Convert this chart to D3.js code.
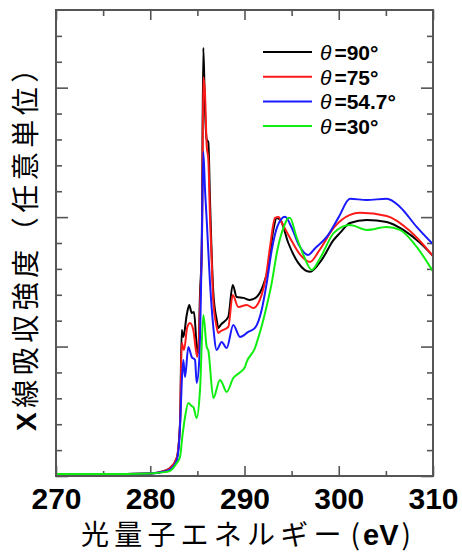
<!DOCTYPE html>
<html>
<head>
<meta charset="utf-8">
<script src="https://cdn.jsdelivr.net/npm/d3@7"></script>
<style>
  body { margin: 0; background: #fff; }
  svg { display: block; }
</style>
</head>
<body>
<div id="chart"></div>
<script>
// photon energy (eV) vs X-ray absorption intensity (arb. units)
const theta90 = [
  [270,0.015],[275,0.015],[280,0.02],[281.5,0.04],[282.1,0.062],[282.81,0.139],[283.16,0.41],
  [283.34,1.128],[283.51,1.074],[283.87,1.244],[284.14,1.321],[284.40,1.260],[284.64,1.267],
  [284.93,1.004],[285.10,0.951],[285.28,1.414],[285.46,1.747],[285.63,3.308],[285.81,2.83],
  [285.99,2.60],[286.16,2.58],[286.34,2.13],[286.5,1.75],[286.69,1.42],[287.05,1.206],
  [287.22,1.144],[287.5,1.17],[288.28,1.229],[288.75,1.476],[289.17,1.383],[289.87,1.376],
  [290.58,1.360],[291.29,1.383],[292.00,1.476],[292.53,1.615],[293.06,1.901],[293.42,1.994],
  [293.8,1.98],[294.65,1.80],[295.7,1.646],[296.95,1.577],[298.19,1.67],[299.42,1.82],
  [300.13,1.878],[301.19,1.955],[302.97,1.978],[305.09,1.963],[306.85,1.901],[308.62,1.801],
  [310,1.70]
];
const theta75 = [
  [270,0.015],[275,0.015],[280,0.02],[281.5,0.04],[282.1,0.06],[282.81,0.14],[283.16,0.40],
  [283.34,1.028],[283.58,0.974],[283.93,1.151],[284.22,1.182],[284.57,1.128],[284.98,0.920],
  [285.3,1.360],[285.5,1.9],[285.63,3.08],[285.81,2.95],[285.99,2.55],[286.16,2.45],
  [286.34,2.0],[286.5,1.7],[286.69,1.35],[287.05,1.151],[287.22,1.105],[287.5,1.12],
  [288.28,1.151],[288.75,1.399],[289.34,1.306],[290.23,1.321],[290.93,1.298],[291.82,1.399],
  [292.3,1.55],[292.71,1.770],[293.24,1.994],[293.6,2.0],[294.0,1.95],[294.83,1.839],
  [295.8,1.72],[296.95,1.654],[298.0,1.75],[299.5,1.92],[301.19,2.017],[302.25,2.033],
  [305.09,2.009],[307.56,1.893],[310,1.70]
];
const theta547 = [
  [270,0.015],[275,0.015],[280,0.02],[281.5,0.035],[282.1,0.05],[282.81,0.12],[283.16,0.38],
  [283.34,0.719],[283.51,0.896],[283.69,0.765],[284.04,0.997],[284.40,0.920],[284.75,0.896],
  [284.93,0.719],[285.2,0.896],[285.46,1.747],[285.63,2.504],[285.81,2.21],[285.99,1.978],
  [286.34,1.491],[286.69,1.151],[287.05,0.974],[287.58,1.036],[288.11,0.989],[288.81,1.167],
  [289.52,1.074],[290.40,1.113],[291.11,1.144],[291.82,1.283],[292.36,1.492],[292.9,1.75],
  [293.5,1.93],[294.3,2.002],[295.0,1.92],[295.8,1.78],[296.74,1.708],[297.5,1.76],
  [298.72,1.847],[300.0,2.0],[301.19,2.141],[302.97,2.133],[305.09,2.141],[306.50,2.079],
  [308.27,1.924],[310,1.79]
];
const theta30 = [
  [270,0.015],[275,0.015],[280,0.02],[281.5,0.03],[282.1,0.04],[282.81,0.10],[283.16,0.147],
  [283.4,0.30],[283.69,0.456],[284.04,0.564],[284.4,0.54],[284.57,0.533],[284.93,0.448],
  [285.28,0.665],[285.63,1.244],[285.99,0.997],[286.16,0.97],[286.69,0.603],[287.4,0.742],
  [287.58,0.726],[288.11,0.649],[288.81,0.757],[289.5,0.80],[290.05,0.842],[290.23,0.881],
  [291.11,0.989],[291.29,1.028],[292.18,1.260],[292.89,1.492],[293.5,1.75],[294.2,1.93],
  [294.65,1.994],[294.83,1.994],[295.5,1.85],[296.3,1.70],[297.13,1.592],[298.0,1.68],
  [299.5,1.88],[301.19,1.940],[302.97,1.901],[305.09,1.924],[306.50,1.901],[308.27,1.770],
  [310,1.58]
];
const seriesData = [theta90, theta75, theta547, theta30];
const seriesNames = ['90°', '75°', '54.7°', '30°'];
const seriesColors = ['#000000', '#ff1a1a', '#1a1aff', '#10ee10'];

const xMajor = [270, 280, 290, 300, 310];
const xMinor = [275, 285, 295, 305];
const yMajor = [0, 1, 2, 3];
const yMinor = d3.range(0.2, 3.6, 0.2).filter(v => Math.abs(v - Math.round(v)) > 0.01);

const W = 462, H = 552;
const box = { left: 56, right: 433, top: 10, bottom: 476 };

const svg = d3.select('#chart').append('svg').attr('width', W).attr('height', H);
svg.append('rect').attr('width', W).attr('height', H).attr('fill', '#fff');

const x = d3.scaleLinear().domain([270, 310]).range([box.left, box.right]);
const y = d3.scaleLinear().domain([0, 3.6]).range([box.bottom, box.top]);

const axisColor = '#555';

function addAxis(axis, tr) {
  let g = svg.append('g').attr('transform', 'translate(' + tr + ')').call(axis);
  g.select('.domain').remove();
  g.selectAll('line').attr('stroke', axisColor).attr('stroke-width', 1.6);
  return g;
}

// bottom
let gb = addAxis(d3.axisBottom(x).tickValues(xMajor).tickSize(-10).tickPadding(6)
  .tickFormat(d3.format('d')), [0, box.bottom]);
gb.selectAll('text')
  .attr('font-family', '"Liberation Sans", Arial, sans-serif')
  .attr('font-size', 30).attr('font-weight', 'bold').attr('fill', '#000')
  .attr('dy', '0.9em');
addAxis(d3.axisBottom(x).tickValues(xMinor).tickSize(-5).tickFormat(''), [0, box.bottom]);
// top
addAxis(d3.axisTop(x).tickValues(xMajor).tickSize(-10).tickFormat(''), [0, box.top]);
addAxis(d3.axisTop(x).tickValues(xMinor).tickSize(-6).tickFormat(''), [0, box.top]);
// left / right
addAxis(d3.axisLeft(y).tickValues(yMajor).tickSize(-12).tickFormat(''), [box.left, 0]);
addAxis(d3.axisLeft(y).tickValues(yMinor).tickSize(-6).tickFormat(''), [box.left, 0]);
addAxis(d3.axisRight(y).tickValues(yMajor).tickSize(-12).tickFormat(''), [box.right, 0]);
addAxis(d3.axisRight(y).tickValues(yMinor).tickSize(-6).tickFormat(''), [box.right, 0]);

svg.append('clipPath').attr('id', 'clip').append('rect')
  .attr('x', box.left).attr('y', box.top)
  .attr('width', box.right - box.left).attr('height', box.bottom - box.top);

const line = d3.line().x(d => x(d[0])).y(d => y(d[1])).curve(d3.curveMonotoneX);

svg.append('g').attr('clip-path', 'url(#clip)')
  .selectAll('path').data(seriesData).enter()
  .append('path')
  .attr('d', line)
  .attr('fill', 'none')
  .attr('stroke', (d, i) => seriesColors[i])
  .attr('stroke-width', 2)
  .attr('stroke-linejoin', 'round');

// frame
svg.append('rect')
  .attr('x', box.left).attr('y', box.top)
  .attr('width', box.right - box.left).attr('height', box.bottom - box.top)
  .attr('fill', 'none').attr('stroke', axisColor).attr('stroke-width', 2);

// legend
const leg = svg.append('g').selectAll('g').data(seriesNames).enter().append('g')
  .attr('transform', (d, i) => 'translate(263,' + (52 + i * 24.7) + ')');
leg.append('line').attr('x1', 0).attr('x2', 49).attr('y1', 0).attr('y2', 0)
  .attr('stroke', (d, i) => seriesColors[i]).attr('stroke-width', 2);
const lt = leg.append('text').attr('x', 57).attr('y', 8)
  .attr('font-family', '"Liberation Sans", Arial, sans-serif').attr('font-size', 21)
  .attr('fill', '#000');
lt.append('tspan').attr('font-style', 'italic').text('θ');
lt.append('tspan').attr('font-weight', 'bold').attr('dx', 3).text(d => '=' + d);

// axis titles
const xt = svg.append('text')
  .attr('x', 81).attr('y', 545)
  .attr('font-family', '"Noto Sans CJK JP", "Liberation Sans", sans-serif')
  .attr('font-size', 28).attr('fill', '#000');
xt.append('tspan').attr('letter-spacing', 5.2).text('光量子エネルギー');
xt.append('tspan').attr('dx', 4).text('(');
xt.append('tspan').attr('font-family', '"Liberation Sans", Arial, sans-serif')
  .attr('font-weight', 'bold').attr('font-size', 29).attr('dx', 3).text('eV');
xt.append('tspan').attr('dx', 3).text(')');

svg.append('text')
  .attr('transform', 'translate(36,431) rotate(-90)')
  .attr('font-family', '"Noto Sans CJK JP", "Liberation Sans", sans-serif')
  .attr('font-size', 28).attr('letter-spacing', 4.5).attr('fill', '#000')
  .call(t => {
    t.append('tspan').attr('font-family', '"Liberation Sans", Arial, sans-serif')
      .attr('font-weight', 'bold').text('X');
    t.append('tspan').text('線吸収強度（任意単位）');
  });
</script>
</body>
</html>
